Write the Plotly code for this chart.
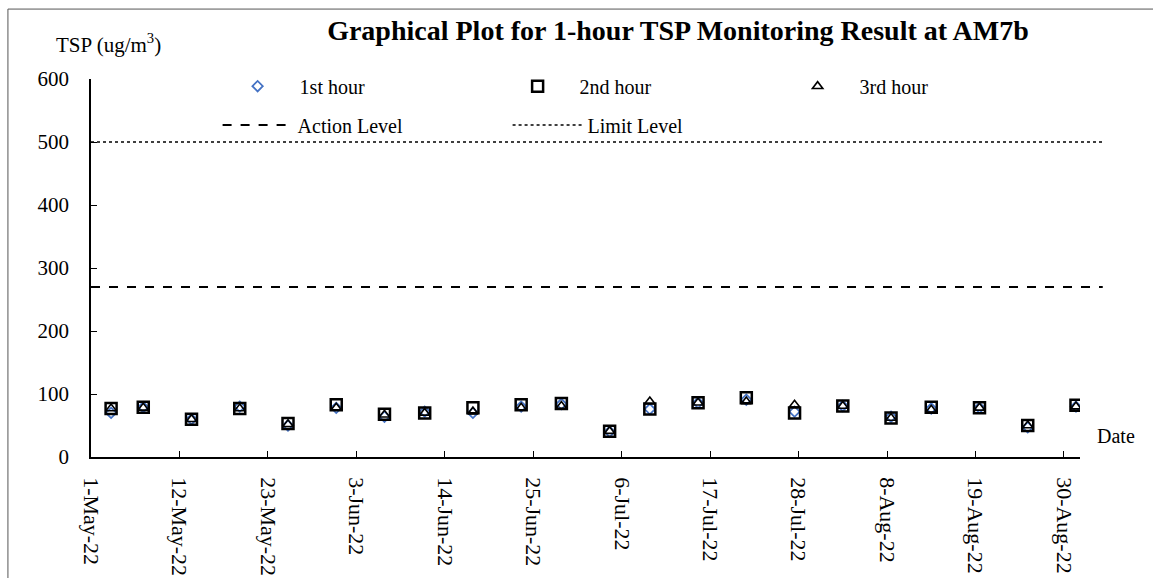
import pandas as pd
import plotly.graph_objects as go

# ---- data ----
DATES = ["2022-05-03", "2022-05-07", "2022-05-13", "2022-05-19", "2022-05-25", "2022-05-31",
         "2022-06-06", "2022-06-11", "2022-06-17", "2022-06-23", "2022-06-28", "2022-07-04",
         "2022-07-09", "2022-07-15", "2022-07-21", "2022-07-27", "2022-08-02", "2022-08-08",
         "2022-08-13", "2022-08-19", "2022-08-25", "2022-08-31"]
HOUR1 = [70, 79, 60, 80, 50, 78, 64, 72, 70, 80, 84, 40, 76, 86, 91, 72, 81, 64, 77, 78, 47, 80]
HOUR2 = [77, 79, 60, 77, 53, 83, 68, 70, 78, 83, 85, 41, 76, 86, 94, 70, 81, 62, 79, 78, 50, 82]
HOUR3 = [77, 78, 60, 77, 52, 78, 67, 70, 72, 78, 81, 41, 88, 86, 88, 83, 81, 62, 75, 78, 50, 80]
ACTION_LEVEL = 270
LIMIT_LEVEL = 500
X_RANGE = ["2022-05-01", "2022-09-01"]
Y_TICKS = [0, 100, 200, 300, 400, 500, 600]

FONT = "Liberation Serif, Times New Roman, serif"

# points sit in the middle of each day slot (Excel date axis)
x_pos = pd.to_datetime(DATES) + pd.Timedelta(hours=12)

fig = go.Figure()
fig.add_trace(go.Scatter(x=x_pos, y=HOUR1, mode="markers", name="1st hour",
                         marker=dict(symbol="diamond-open", size=8, color="#4472C4",
                                     line=dict(width=1.8, color="#4472C4")),
                         legend="legend"))
fig.add_trace(go.Scatter(x=x_pos, y=HOUR2, mode="markers", name="2nd hour",
                         marker=dict(symbol="square-open", size=11, color="black",
                                     line=dict(width=2.5, color="black")),
                         legend="legend"))
fig.add_trace(go.Scatter(x=x_pos, y=HOUR3, mode="markers", name="3rd hour",
                         marker=dict(symbol="triangle-up-open", size=9, color="black",
                                     line=dict(width=1.6, color="black")),
                         legend="legend"))
# legend entries for the level lines (lines themselves drawn as shapes)
fig.add_trace(go.Scatter(x=[None], y=[None], mode="lines", name="Action Level",
                         line=dict(color="black", width=2, dash="dash"), legend="legend2"))
fig.add_trace(go.Scatter(x=[None], y=[None], mode="lines", name="Limit Level",
                         line=dict(color="black", width=1.5, dash="dot"), legend="legend2"))

fig.add_shape(type="line", xref="paper", yref="y", x0=0, x1=1.023,
              y0=ACTION_LEVEL, y1=ACTION_LEVEL, line=dict(color="black", width=2, dash="dash"))
fig.add_shape(type="line", xref="paper", yref="y", x0=0, x1=1.023,
              y0=LIMIT_LEVEL, y1=LIMIT_LEVEL, line=dict(color="black", width=1.5, dash="dot"))

# outer frame
fig.add_shape(type="rect", xref="paper", yref="paper", x0=-0.084, x1=1.5, y0=-1, y1=1.185,
              line=dict(color="#555555", width=1), layer="below")

fig.update_layout(
    width=1153, height=578,
    margin=dict(l=91, r=73, t=79, b=121, autoexpand=False),
    paper_bgcolor="white", plot_bgcolor="white",
    font=dict(family=FONT, size=20, color="black"),
    title=dict(text="<b>Graphical Plot for 1-hour TSP Monitoring Result at AM7b</b>",
               x=0.588, xanchor="center", y=0.948, yanchor="middle",
               font=dict(family=FONT, size=28, color="black")),
    xaxis=dict(type="date", range=X_RANGE, tick0="2022-05-01", dtick=11 * 86400000,
               tickformat="%-d-%b-%y", tickangle=90, ticks="inside", ticklen=6,
               tickcolor="black", showline=True, linecolor="black", linewidth=1.5,
               showgrid=False, zeroline=False, ticklabelstandoff=14, automargin=False,
               tickfont=dict(family=FONT, size=22)),
    yaxis=dict(range=[0, 600], tickvals=Y_TICKS, ticks="inside", ticklen=6,
               tickcolor="black", showline=True, linecolor="black", linewidth=1.5,
               showgrid=False, zeroline=False, ticklabelstandoff=16, automargin=False,
               tickfont=dict(family=FONT, size=21)),
    legend=dict(orientation="h", x=0.126, xanchor="left", y=0.981, yanchor="middle",
                entrywidth=191, entrywidthmode="pixels", itemwidth=74,
                font=dict(family=FONT, size=20), bgcolor="rgba(0,0,0,0)"),
    legend2=dict(orientation="h", x=0.128, xanchor="left", y=0.878, yanchor="middle",
                 entrywidth=205, entrywidthmode="pixels", itemwidth=70,
                 font=dict(family=FONT, size=20), bgcolor="rgba(0,0,0,0)"),
    showlegend=True,
)

fig.add_annotation(text="TSP (ug/m<sup>3</sup>)", xref="paper", yref="paper",
                   x=-0.0374, y=1.095, xanchor="left", yanchor="middle", showarrow=False,
                   font=dict(family=FONT, size=21))
fig.add_annotation(text="Date", xref="paper", yref="paper",
                   x=1.015, y=0.056, xanchor="left", yanchor="middle", showarrow=False,
                   font=dict(family=FONT, size=20))

fig.write_html("out.html", config={"displayModeBar": False},
               post_script="document.body.style.margin='0';")
